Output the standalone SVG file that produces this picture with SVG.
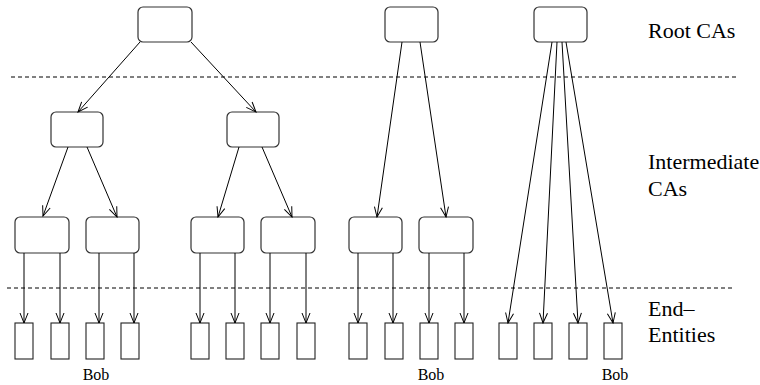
<svg xmlns="http://www.w3.org/2000/svg" width="760" height="385" viewBox="0 0 760 385">
  <defs>
    <style>
      .ca { fill: #fff; stroke: #333; stroke-width: 1.2; }
      .ee { fill: #fff; stroke: #222; stroke-width: 1.1; }
      .edge { fill: none; stroke: #000; stroke-width: 1; marker-end: url(#arrow); }
      .sep { fill: none; stroke: #000; stroke-width: 1; stroke-dasharray: 4 3; }
      text { font-family: "Times New Roman", Times, "Liberation Serif", "Nimbus Roman", "DejaVu Serif", "Noto Serif", serif; fill: #000; }
      .lbl { font-size: 22px; }
      .bob { font-size: 16px; text-anchor: middle; }
    </style>
    <marker id="arrow" viewBox="-11 -5 12 10" markerWidth="12" markerHeight="10" refX="0" refY="0" orient="auto" markerUnits="userSpaceOnUse">
      <path d="M-10,-4 L0,0 L-10,4" fill="none" stroke="#000" stroke-width="1"/>
    </marker>
  </defs>
  <rect width="760" height="385" fill="#fff"/>

  <!-- level separators -->
  <g id="separators">
    <line class="sep" x1="11" y1="77" x2="737" y2="77"/>
    <line class="sep" x1="7" y1="288" x2="735" y2="288"/>
  </g>

  <!-- root CAs -->
  <g id="root1"><rect class="ca" x="138" y="7" width="54" height="35" rx="5"/></g>
  <g id="root2"><rect class="ca" x="385" y="7" width="53" height="35" rx="5"/></g>
  <g id="root3"><rect class="ca" x="534" y="7" width="53" height="35" rx="5"/></g>

  <!-- intermediate CAs, upper tier -->
  <g id="int1a"><rect class="ca" x="51" y="112" width="52" height="35" rx="5"/></g>
  <g id="int1b"><rect class="ca" x="227" y="112" width="52" height="35" rx="5"/></g>

  <!-- intermediate CAs, lower tier -->
  <g id="int2a"><rect class="ca" x="15" y="217" width="54" height="36" rx="5"/></g>
  <g id="int2b"><rect class="ca" x="86" y="217" width="53" height="36" rx="5"/></g>
  <g id="int2c"><rect class="ca" x="191" y="217" width="53" height="36" rx="5"/></g>
  <g id="int2d"><rect class="ca" x="261" y="217" width="54" height="36" rx="5"/></g>
  <g id="int2e"><rect class="ca" x="349" y="217" width="53" height="36" rx="5"/></g>
  <g id="int2f"><rect class="ca" x="419" y="217" width="54" height="36" rx="5"/></g>

  <!-- end entities -->
  <g id="ee1"><rect class="ee" x="15" y="323" width="18" height="36"/></g>
  <g id="ee2"><rect class="ee" x="51" y="323" width="18" height="36"/></g>
  <g id="ee3"><rect class="ee" x="86" y="323" width="18" height="36"/></g>
  <g id="ee4"><rect class="ee" x="121" y="323" width="18" height="36"/></g>
  <g id="ee5"><rect class="ee" x="191" y="323" width="18" height="36"/></g>
  <g id="ee6"><rect class="ee" x="226" y="323" width="18" height="36"/></g>
  <g id="ee7"><rect class="ee" x="261" y="323" width="18" height="36"/></g>
  <g id="ee8"><rect class="ee" x="297" y="323" width="18" height="36"/></g>
  <g id="ee9"><rect class="ee" x="349" y="323" width="18" height="36"/></g>
  <g id="ee10"><rect class="ee" x="385" y="323" width="18" height="36"/></g>
  <g id="ee11"><rect class="ee" x="420" y="323" width="18" height="36"/></g>
  <g id="ee12"><rect class="ee" x="455" y="323" width="18" height="36"/></g>
  <g id="ee13"><rect class="ee" x="499" y="323" width="18" height="36"/></g>
  <g id="ee14"><rect class="ee" x="534" y="323" width="18" height="36"/></g>
  <g id="ee15"><rect class="ee" x="569" y="323" width="18" height="36"/></g>
  <g id="ee16"><rect class="ee" x="604" y="323" width="18" height="36"/></g>

  <!-- issuing relations -->
  <g id="connectors">
    <line class="edge" x1="140" y1="42" x2="78" y2="112"/>
    <line class="edge" x1="191" y1="42" x2="256" y2="112"/>

    <line class="edge" x1="68" y1="147" x2="43" y2="216"/>
    <line class="edge" x1="87" y1="147" x2="117" y2="217"/>
    <line class="edge" x1="239" y1="147" x2="218" y2="217"/>
    <line class="edge" x1="262" y1="147" x2="292" y2="217"/>

    <line class="edge" x1="402" y1="42" x2="377" y2="217"/>
    <line class="edge" x1="420" y1="42" x2="446" y2="217"/>

    <line class="edge" x1="552" y1="42" x2="508" y2="323"/>
    <line class="edge" x1="557" y1="42" x2="543" y2="323"/>
    <line class="edge" x1="562" y1="42" x2="578" y2="323"/>
    <line class="edge" x1="566" y1="42" x2="613" y2="323"/>

    <line class="edge" x1="24" y1="253" x2="24" y2="323"/>
    <line class="edge" x1="60" y1="253" x2="60" y2="323"/>
    <line class="edge" x1="99" y1="253" x2="99" y2="323"/>
    <line class="edge" x1="134" y1="253" x2="134" y2="323"/>
    <line class="edge" x1="200" y1="253" x2="200" y2="323"/>
    <line class="edge" x1="235" y1="253" x2="235" y2="323"/>
    <line class="edge" x1="270" y1="253" x2="270" y2="323"/>
    <line class="edge" x1="306" y1="253" x2="306" y2="323"/>
    <line class="edge" x1="358" y1="253" x2="358" y2="323"/>
    <line class="edge" x1="393" y1="253" x2="393" y2="323"/>
    <line class="edge" x1="429" y1="253" x2="429" y2="323"/>
    <line class="edge" x1="464" y1="253" x2="464" y2="323"/>
  </g>

  <!-- tier labels -->
  <g id="labels">
    <text class="lbl" x="648" y="38">Root CAs</text>
    <text class="lbl" x="648" y="169">Intermediate</text>
    <text class="lbl" x="648" y="196">CAs</text>
    <text class="lbl" x="648" y="316">End–</text>
    <text class="lbl" x="648" y="342">Entities</text>
    <text class="bob" x="96" y="380">Bob</text>
    <text class="bob" x="431" y="380">Bob</text>
    <text class="bob" x="615" y="380">Bob</text>
  </g>
</svg>
